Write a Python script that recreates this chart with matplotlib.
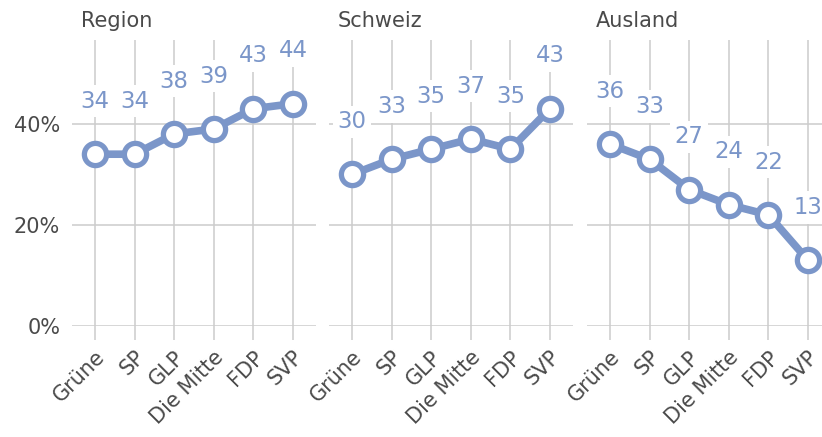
import matplotlib
matplotlib.use("Agg")
import matplotlib.pyplot as plt

categories = ["Grüne", "SP", "GLP", "Die Mitte", "FDP", "SVP"]
panels = ["Region", "Schweiz", "Ausland"]
region = [34, 34, 38, 39, 43, 44]
schweiz = [30, 33, 35, 37, 35, 43]
ausland = [36, 33, 27, 24, 22, 13]
series = [region, schweiz, ausland]
yticks = [0, 20, 40]
ytick_labels = ["0%", "20%", "40%"]

plt.rcParams['font.family'] = ['DejaVu Sans']
W, H = 822, 437
fig = plt.figure(figsize=(W / 100, H / 100), dpi=100)

line_col = "#7b96c9"
grid_col = "#cccccc"
text_col = "#4a4a4a"

lefts = [72, 329, 587]
ax_w = 244
bottom_px = 326
top_px = 40

for i, (name, vals) in enumerate(zip(panels, series)):
    ax = fig.add_axes([lefts[i] / W, (H - bottom_px) / H, ax_w / W, (bottom_px - top_px) / H])
    x = list(range(len(categories)))
    ax.plot(x, vals, color=line_col, lw=5.5, marker="o", ms=16,
            mfc="white", mec=line_col, mew=3.8, zorder=4, clip_on=False)
    for xi, v in zip(x, vals):
        ax.annotate(str(v), (xi, v), xytext=(0, 38), textcoords="offset points",
                    ha="center", va="center", fontsize=16.4, color=line_col,
                    bbox=dict(boxstyle="square,pad=0.2", fc="white", ec="none"),
                    zorder=5, annotation_clip=False)
    ax.set_xlim(-0.58, 5.58)
    ax.set_ylim(0, 56.6)
    ax.set_xticks(x)
    ax.set_xticklabels(categories, rotation=45, ha="right", va="top",
                       rotation_mode="anchor", fontsize=15, color=text_col)
    ax.set_yticks(yticks)
    if i == 0:
        ax.set_yticklabels(ytick_labels, fontsize=15, color=text_col)
    else:
        ax.set_yticklabels([])
    ax.tick_params(axis="y", length=0, pad=8.5)
    ax.tick_params(axis="x", length=10, width=1.1, color=grid_col, pad=5)
    ax.grid(True, color=grid_col, lw=1.1, zorder=0)
    ax.set_axisbelow(True)
    for s in ax.spines.values():
        s.set_visible(False)
    fig.text((lefts[i] + 9) / W, 1 - 27 / H, name, fontsize=15,
             color=text_col, ha="left", va="baseline")

fig.savefig("out.png", dpi=100)
